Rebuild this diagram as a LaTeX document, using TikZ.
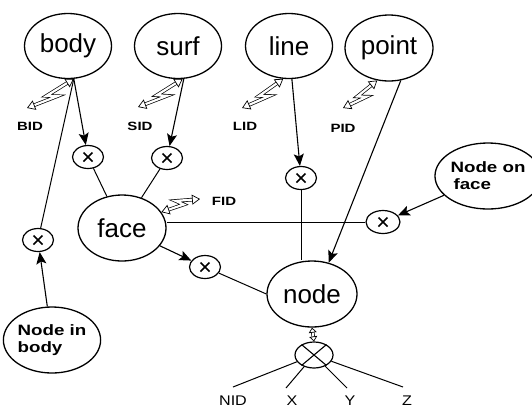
\documentclass[tikz,border=0pt]{standalone}
\usepackage{fontspec}
\setmainfont{Liberation Sans}
\usepackage{graphicx}
\usetikzlibrary{shapes.geometric,arrows.meta,calc}
\newcommand\wideb[1]{\scalebox{1.25}[1]{\bfseries #1}}
\newcommand\wider[1]{\scalebox{1.15}[1]{#1}}
\newcommand\zapline[2]{\draw[idarr] (#1) -- ($(#1)!0.58!(#2)$) -- ($(#1)!0.42!(#2)!6pt!90:(#2)$) -- (#2);}
\tikzset{
  ent/.style={ellipse, draw, line width=1.3pt, inner sep=0pt, minimum width=87pt, minimum height=65pt, font=\fontsize{26}{28}\selectfont},
  ent2/.style={ellipse, draw, line width=1.3pt, inner sep=0pt, minimum width=87pt, minimum height=66pt, align=left, font=\fontsize{15}{17}\selectfont},
  xnode/.style={ellipse, draw, line width=1.2pt, minimum width=31pt, minimum height=23pt, inner sep=0pt,
    path picture={\draw[line width=1.5pt] ($(path picture bounding box.center)+(-4.5pt,-4.5pt)$) -- ++(9pt,9pt)
      ($(path picture bounding box.center)+(-4.5pt,4.5pt)$) -- ++(9pt,-9pt);}},
  bigx/.style={ellipse, draw, line width=1.2pt, minimum width=38pt, minimum height=26pt, inner sep=0pt},
  arr/.style={line width=1.1pt, -{Stealth[length=12pt,width=10pt,inset=2.5pt]}},
  conn/.style={line width=1pt},
  idarr/.style={line width=0.7pt, double, double distance=2.2pt, {Triangle[open,length=8pt,width=10pt]}-{Triangle[open,length=8pt,width=10pt]}},
  idlab/.style={font=\fontsize{12}{13}\selectfont},
  axlab/.style={font=\fontsize{14}{15}\selectfont}
}
\begin{document}
\begin{tikzpicture}[x=1pt,y=-1pt]
\useasboundingbox (0,0) rectangle (532,408);
% main entities
\node[ent] (body) at (68,46) {body};
\node[ent] (surf) at (178,46) {surf};
\node[ent] (line) at (289,46) {line};
\node[ent, minimum width=88pt, minimum height=66pt] (point) at (389,48) {point};
\node[ent, minimum width=88pt, minimum height=66pt] (face) at (122,228) {face};
\node[ent, minimum width=90pt, minimum height=66pt] (node) at (312,294) {node};
\node[ent2] (nib) at (52,340) {\wideb{Node in}\\\wideb{body}};
\node[ent2, minimum width=84pt] (nof) at (488,176) {\wideb{Node on}\\\hspace{3pt}\wideb{face}};
% cross nodes
\node[xnode] (c1) at (88,157) {};
\node[xnode] (c2) at (167,158) {};
\node[xnode] (c3) at (301,178) {};
\node[xnode, minimum width=34pt] (c4) at (383,222) {};
\node[xnode] (c5) at (205,267) {};
\node[xnode] (c6) at (38,240) {};
\node[bigx] (cb) at (314,355) {};
\draw[line width=1.1pt] (cb.40) -- (cb.220) (cb.140) -- (cb.-40);
% id labels
\node[idlab] (bid) at (30,126) {\wideb{BID}};
\node[idlab] (sid) at (140,126) {\wideb{SID}};
\node[idlab] (lid) at (245,126) {\wideb{LID}};
\node[idlab] (pid) at (343,128) {\wideb{PID}};
\node[idlab] (fid) at (224,201) {\wideb{FID}};
% axis labels
\node[axlab] (nid) at (233,401) {\wider{NID}};
\node[axlab] (xl) at (292,401) {\wider{X}};
\node[axlab] (yl) at (350,401) {\wider{Y}};
\node[axlab] (zl) at (407,401) {\wider{Z}};
% free ends
\coordinate (bz) at (27,108);
\coordinate (sz) at (138,107);
\coordinate (lz) at (242,108);
\coordinate (pz) at (343,108);
\coordinate (fz) at (200,199);
\coordinate (nide) at (233,387);
\coordinate (xe) at (286,388);
\coordinate (ye) at (347,388);
\coordinate (ze) at (403,387);
% lightning id arrows
\zapline{body.-80}{bz}
\zapline{surf.-82}{sz}
\zapline{line.-100}{lz}
\zapline{point.-110}{pz}
\zapline{face.22}{fz}
% connectors
\draw[arr] (body.-80) -- (c1);
\draw[conn] (c1) -- (face);
\draw[arr] (surf.-80) -- (c2);
\draw[conn] (c2) -- (face);
\draw[arr] (line.-85) -- (c3);
\draw[conn] (c3) -- (c3 |- node.north);
\draw[arr] (point.-70) -- (node.62);
\draw[arr] (nof) -- (c4);
\draw[conn] (c4.west) -- (c4.west -| face.east);
\draw[arr] (face) -- (c5);
\draw[conn] (c5) -- (node.west);
\draw[arr] (nib) -- (c6);
\draw[conn] (c6) -- (body.-80);
\draw[line width=0.7pt, double, double distance=2pt, {Triangle[open,length=5pt,width=8pt]}-{Triangle[open,length=5pt,width=8pt]}] (node.south) -- (cb.north);
\draw[conn] (cb) -- (nide);
\draw[conn] (cb) -- (xe);
\draw[conn] (cb) -- (ye);
\draw[conn] (cb) -- (ze);
\end{tikzpicture}
\end{document}
